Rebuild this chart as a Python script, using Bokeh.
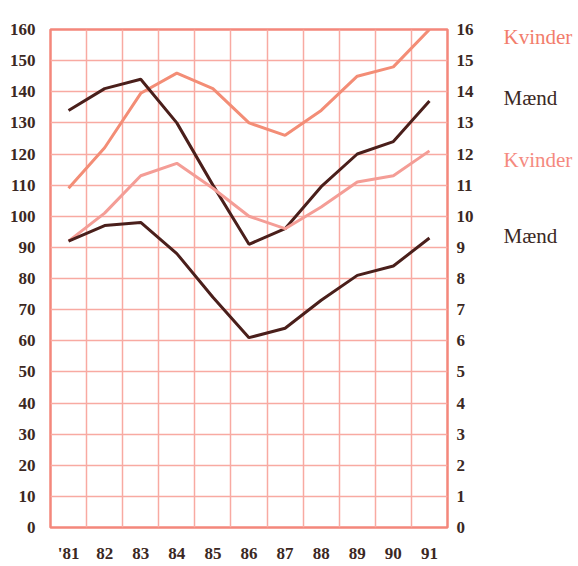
from bokeh.plotting import figure
from bokeh.models import Range1d, LinearAxis, FixedTicker
from bokeh.layouts import row
from bokeh.core.properties import value
from bokeh.embed import file_html
from bokeh.resources import INLINE

years = [81, 82, 83, 84, 85, 86, 87, 88, 89, 90, 91]
year_labels = ["'81", "82", "83", "84", "85", "86", "87", "88", "89", "90", "91"]

# upper pair (read on right axis, 0-16)
kvinder_hi = [10.9, 12.2, 13.95, 14.6, 14.1, 13.0, 12.6, 13.4, 14.5, 14.8, 16.0]
maend_hi = [13.4, 14.1, 14.4, 13.0, 11.0, 9.1, 9.6, 10.95, 12.0, 12.4, 13.7]
# lower pair (read on left axis, 0-160)
kvinder_lo = [92, 101, 113, 117, 109, 100, 96, 103, 111, 113, 121]
maend_lo = [92, 97, 98, 88, 74, 61, 64, 73, 81, 84, 93]

left_ticks = list(range(0, 161, 10))
right_ticks = list(range(0, 17))

series_names = ["Kvinder", "Mænd", "Kvinder", "Mænd"]
name_levels = [157.5, 138, 118, 93.5]

PINK_GRID = "#f8aaa2"
FRAME = "#f4877b"
PINK1 = "#f38d76"
PINK2 = "#f49d96"
DARK = "#4a1f1b"
TXT = "#3b2823"
FONT = "'Liberation Serif', 'Times New Roman', serif"
name_colors = ["#f27d6c", TXT, "#f58a7f", TXT]

yr = Range1d(0, 160)
p = figure(width=503, height=566, output_backend="svg", toolbar_location=None,
           x_range=Range1d(80.5, 91.5), y_range=yr,
           min_border_left=50, min_border_right=56, min_border_top=29,
           min_border_bottom=39)
p.extra_y_ranges = {"r": Range1d(0, 16)}

p.outline_line_color = FRAME
p.outline_line_width = 2.5
p.background_fill_color = "white"
p.border_fill_color = "white"

p.xgrid.ticker = FixedTicker(ticks=[y + 0.5 for y in years[:-1]])
p.ygrid.ticker = FixedTicker(ticks=left_ticks)
for g in (p.xgrid, p.ygrid):
    g.grid_line_color = PINK_GRID
    g.grid_line_width = 1.5

p.xaxis.ticker = FixedTicker(ticks=years)
p.xaxis.major_label_overrides = {y: l for y, l in zip(years, year_labels)}
p.yaxis.ticker = FixedTicker(ticks=left_ticks)

raxis = LinearAxis(y_range_name="r", ticker=FixedTicker(ticks=right_ticks))
p.add_layout(raxis, "right")

for ax in (p.xaxis[0], p.yaxis[0], raxis):
    ax.axis_line_color = None
    ax.major_tick_line_color = None
    ax.minor_tick_line_color = None
    ax.major_tick_out = 0
    ax.minor_tick_out = 0
    ax.major_tick_in = 0
    ax.minor_tick_in = 0
    ax.major_label_text_font = FONT
    ax.major_label_text_font_size = "17px"
    ax.major_label_text_font_style = "bold"
    ax.major_label_text_color = TXT
p.xaxis.major_label_standoff = 16
p.yaxis.major_label_standoff = 15
raxis.major_label_standoff = 9

p.line(years, kvinder_hi, y_range_name="r", line_color=PINK1, line_width=3)
p.line(years, maend_hi, y_range_name="r", line_color=DARK, line_width=3)
p.line(years, kvinder_lo, line_color=PINK2, line_width=3)
p.line(years, maend_lo, line_color=DARK, line_width=3)

# side panel with the series names
q = figure(width=75, height=566, output_backend="svg", toolbar_location=None,
           x_range=Range1d(0, 1), y_range=yr,
           min_border_left=0, min_border_right=0, min_border_top=29,
           min_border_bottom=39)
q.axis.visible = False
q.grid.visible = False
q.outline_line_color = None
q.text(x=[0.0] * 4, y=name_levels, text=series_names,
       text_color=name_colors, text_font=value(FONT),
       text_font_size="21px", text_baseline="middle", text_align="left")

layout = row(p, q)
open("out.html", "w").write(file_html(layout, INLINE))
